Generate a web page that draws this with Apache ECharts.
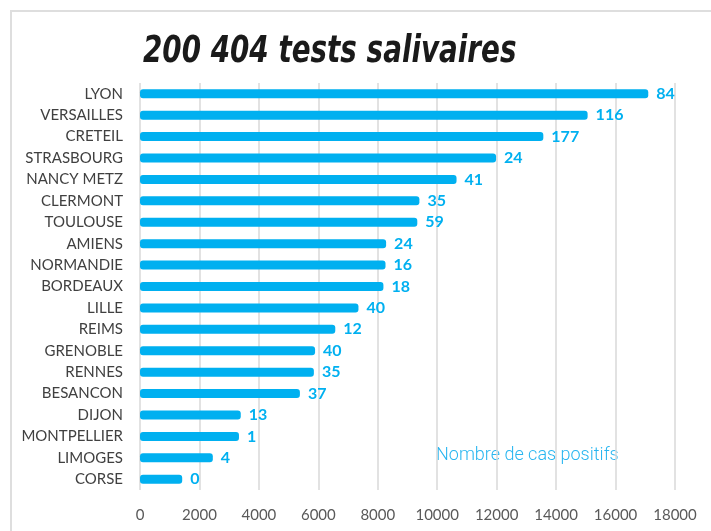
<!DOCTYPE html>
<html>
<head>
<meta charset="utf-8">
<script src="https://cdn.jsdelivr.net/npm/echarts@6/dist/echarts.min.js"></script>
<style>
  html, body { margin: 0; padding: 0; background: #fff; }
  #chart { width: 711px; height: 531px; }
</style>
</head>
<body>
<div id="chart"></div>
<script>
// académies, du haut vers le bas
const academies = ['LYON', 'VERSAILLES', 'CRETEIL', 'STRASBOURG', 'NANCY METZ', 'CLERMONT', 'TOULOUSE',
  'AMIENS', 'NORMANDIE', 'BORDEAUX', 'LILLE', 'REIMS', 'GRENOBLE', 'RENNES', 'BESANCON', 'DIJON',
  'MONTPELLIER', 'LIMOGES', 'CORSE']
// nombre de tests salivaires
const tests = [17100, 15060, 13570, 11980, 10650, 9400, 9330, 8280, 8260, 8190, 7350, 6570, 5890, 5850,
  5380, 3390, 3330, 2450, 1420]
// nombre de cas positifs (étiquettes)
const positifs = [84, 116, 177, 24, 41, 35, 59, 24, 16, 18, 40, 12, 40, 35, 37, 13, 1, 4, 0]
const xTicks = { min: 0, max: 18000, interval: 2000 }

const myChart = echarts.init(document.getElementById('chart'))
const blue = '#00b0f0'

const option = {
  backgroundColor: '#fff',
  animation: false,
  graphic: [
    {
      type: 'rect',
      shape: { x: 11, y: 11, width: 760, height: 600 },
      style: { fill: 'none', stroke: '#dedede', lineWidth: 2 },
      z: -1
    },
    {
      // titre : police condensée, compressée en largeur
      type: 'text',
      x: 143,
      y: 34,
      scaleX: 0.835,
      style: {
        text: '200 404 tests salivaires',
        fill: '#1a1a1a',
        font: 'italic bold 37px "DejaVu Sans Condensed"'
      }
    },
    {
      type: 'text',
      left: 436,
      top: 446,
      style: {
        text: 'Nombre de cas positifs',
        fill: '#29b6f0',
        font: '300 18px Roboto'
      }
    }
  ],
  grid: { left: 140, right: 36, top: 83, bottom: 41 },
  xAxis: {
    type: 'value',
    min: xTicks.min,
    max: xTicks.max,
    interval: xTicks.interval,
    axisLine: { show: false },
    axisTick: { show: false },
    axisLabel: { color: '#595959', fontFamily: 'Lato', fontSize: 15, margin: 18, formatter: v => String(v) },
    splitLine: { lineStyle: { color: '#d9d9d9', width: 1.5 } }
  },
  yAxis: {
    type: 'category',
    inverse: true,
    data: academies,
    axisLine: { show: false },
    axisTick: { show: false },
    axisLabel: { color: '#404040', fontFamily: 'Lato', fontSize: 15, margin: 17 }
  },
  series: [{
    type: 'bar',
    data: tests,
    barWidth: 9,
    itemStyle: { color: blue, borderRadius: 3 },
    label: {
      show: true,
      position: 'right',
      distance: 8,
      color: blue,
      fontFamily: 'Lato',
      fontWeight: 'bold',
      fontSize: 16,
      formatter: p => positifs[p.dataIndex]
    }
  }]
}

myChart.setOption(option)
window.addEventListener('resize', myChart.resize)
</script>
</body>
</html>
